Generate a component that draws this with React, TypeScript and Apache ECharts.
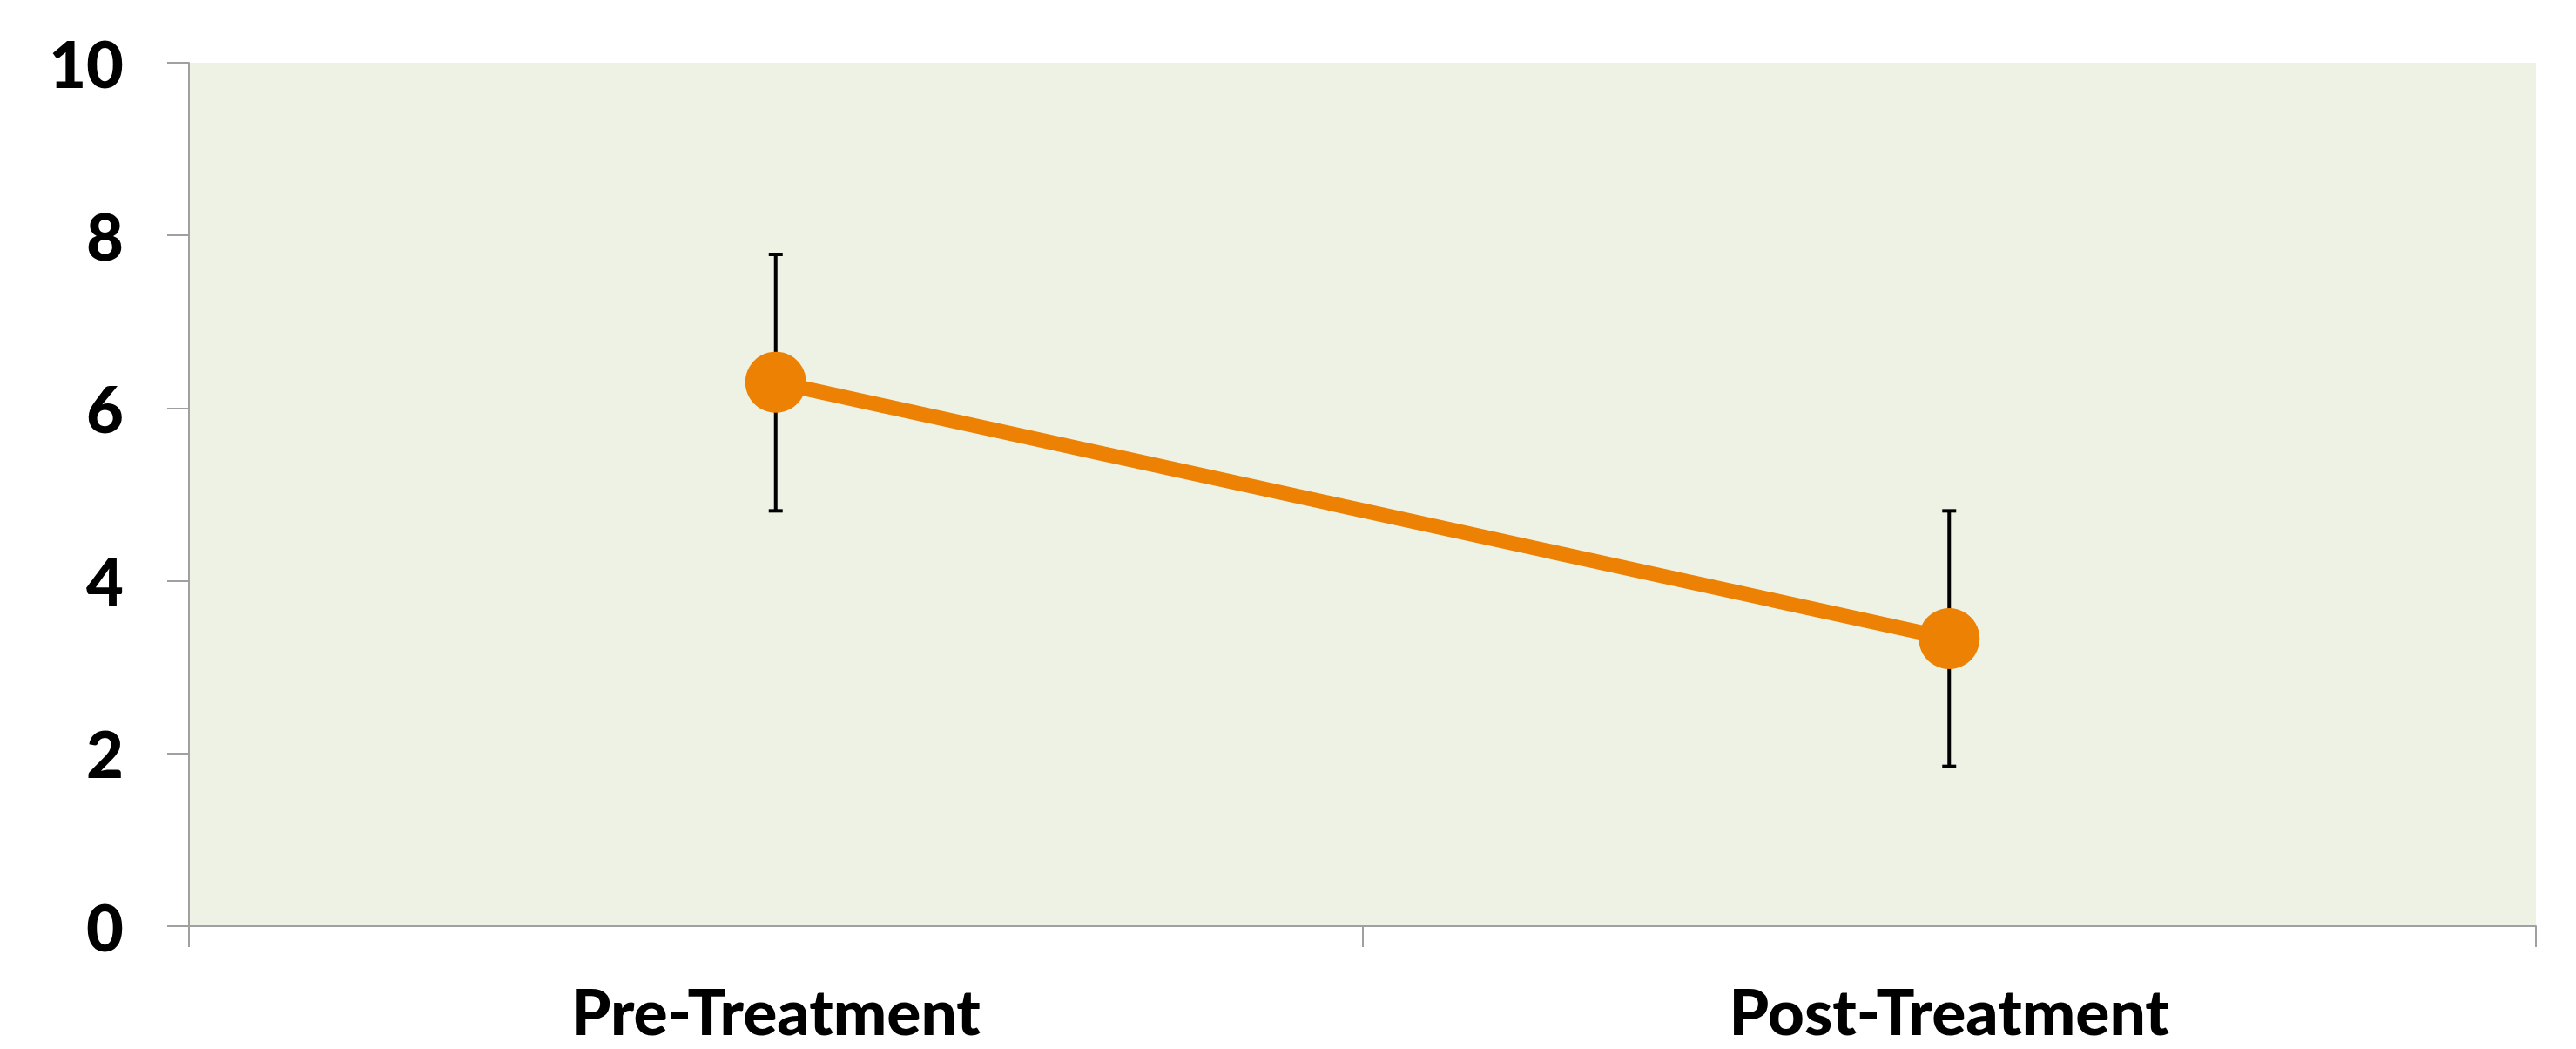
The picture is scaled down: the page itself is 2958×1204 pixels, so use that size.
import React, { useEffect, useRef } from "react";
import * as echarts from "echarts";

const categories = ["Pre-Treatment", "Post-Treatment"];
const means = [6.3, 3.33];
const errLow = [4.81, 1.85];
const errHigh = [7.78, 4.81];
const yTicks = [0, 2, 4, 6, 8, 10];

export default function App() {
  const ref = useRef<HTMLDivElement>(null);
  useEffect(() => {
    document.body.style.margin = "0";
    const chart = echarts.init(ref.current!, null, { renderer: "svg" });
    const axisGray = "#A0A0A0";
    chart.setOption({
      animation: false,
      backgroundColor: "#ffffff",
      grid: {
        left: 217,
        right: 46,
        top: 72,
        bottom: 141,
        show: true,
        backgroundColor: "#EEF2E4",
        borderWidth: 0,
      },
      xAxis: {
        type: "category",
        data: categories,
        boundaryGap: true,
        axisLine: { show: true, lineStyle: { color: axisGray, width: 2 } },
        axisTick: { show: true, length: 24, lineStyle: { color: axisGray, width: 2 } },
        axisLabel: {
          color: "#000",
          fontFamily: "Lato",
          fontWeight: 900,
          fontSize: 73,
          lineHeight: 73,
          margin: 60,
        },
        splitLine: { show: false },
      },
      yAxis: {
        type: "value",
        min: 0,
        max: 10,
        interval: 2,
        axisLine: { show: true, lineStyle: { color: axisGray, width: 2 } },
        axisTick: { show: true, length: 25, lineStyle: { color: axisGray, width: 2 } },
        axisLabel: {
          color: "#000",
          fontFamily: "Lato",
          fontWeight: 900,
          fontSize: 74,
          margin: 75,
          padding: [14, 0, 0, 0],
          formatter: (v: number) => (yTicks.includes(v) ? String(v) : ""),
        },
        splitLine: { show: false },
      },
      series: [
        {
          type: "custom",
          z: 1,
          data: categories.map((_, i) => [i, errLow[i], errHigh[i]]),
          renderItem: (params: any, api: any) => {
            const x = api.value(0);
            const lo = api.coord([x, api.value(1)]);
            const hi = api.coord([x, api.value(2)]);
            const hw = 8;
            const style = { stroke: "#000", lineWidth: 4 };
            return {
              type: "group",
              children: [
                { type: "line", shape: { x1: lo[0], y1: lo[1], x2: hi[0], y2: hi[1] }, style },
                { type: "line", shape: { x1: hi[0] - hw, y1: hi[1], x2: hi[0] + hw, y2: hi[1] }, style },
                { type: "line", shape: { x1: lo[0] - hw, y1: lo[1], x2: lo[0] + hw, y2: lo[1] }, style },
              ],
            };
          },
        },
        {
          type: "line",
          z: 5,
          data: means,
          symbol: "circle",
          symbolSize: 70,
          lineStyle: { color: "#EC8104", width: 17 },
          itemStyle: { color: "#EC8104" },
        },
      ],
    });
    return () => chart.dispose();
  }, []);
  return <div ref={ref} style={{ width: 2958, height: 1204 }} />;
}
